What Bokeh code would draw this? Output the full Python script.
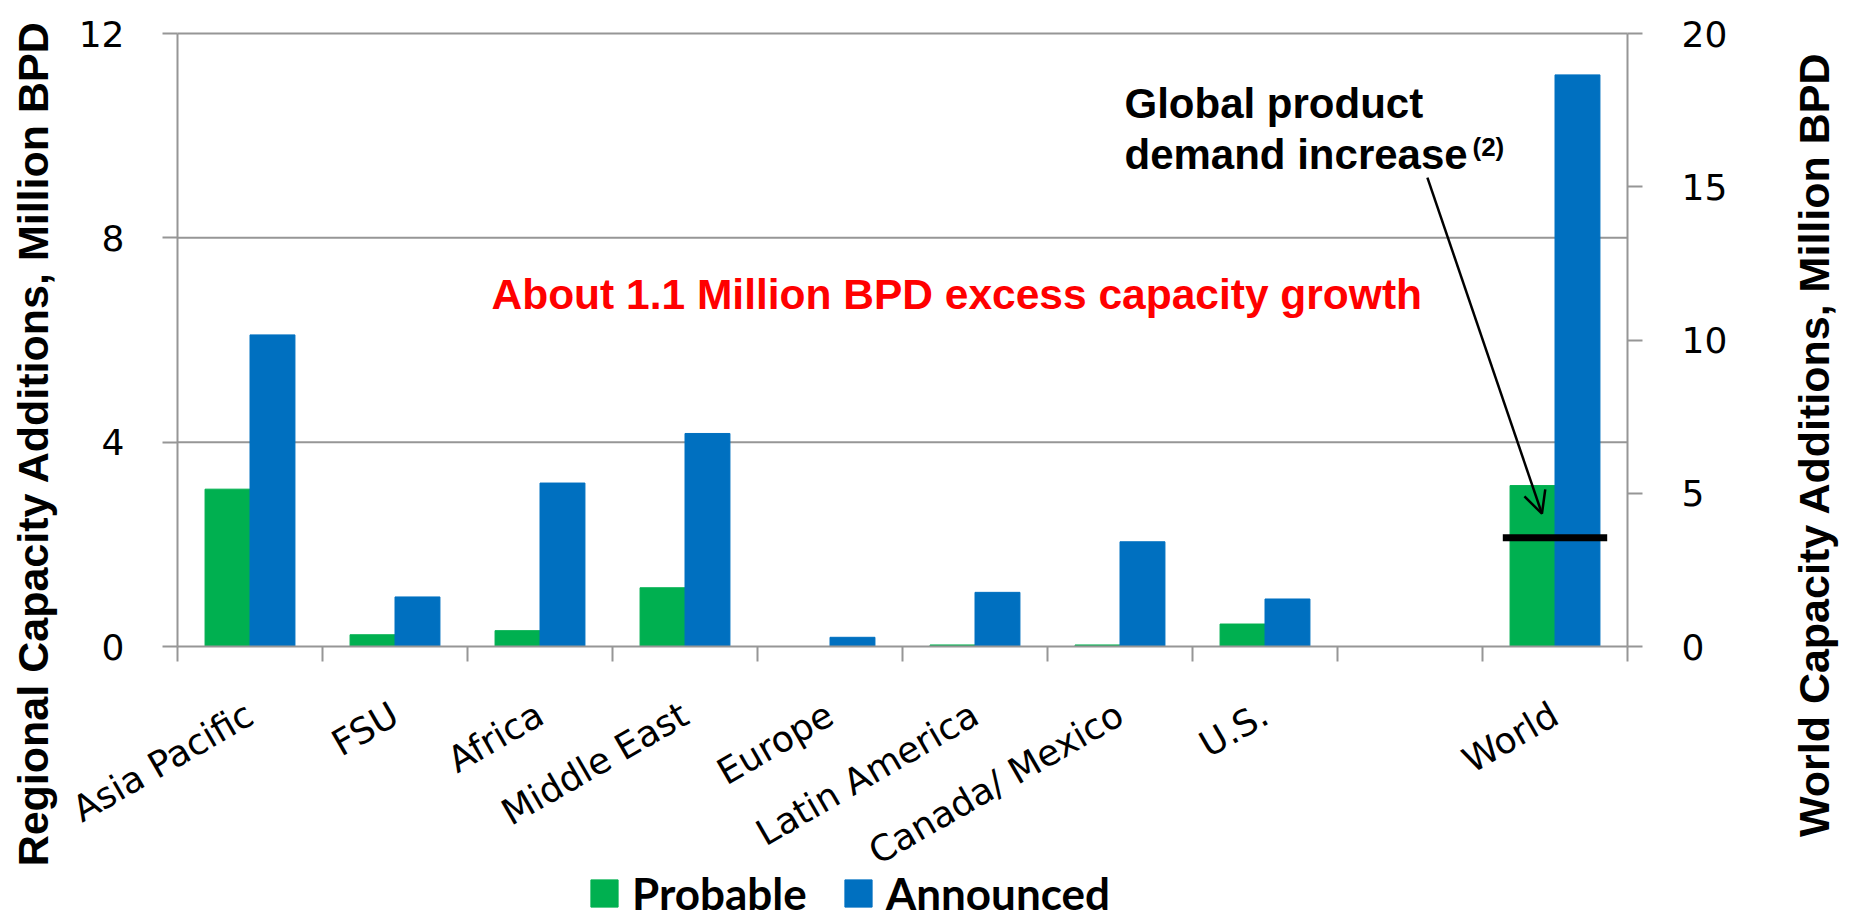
import numpy as np
from math import pi
from bokeh.plotting import figure
from bokeh.models import (Range1d, LinearAxis, FixedTicker, Label, Arrow, OpenHead,
                          Legend, LegendItem, ColumnDataSource)
from bokeh.embed import file_html
from bokeh.resources import INLINE

# ---------------- data ----------------
categories = ["Asia Pacific", "FSU", "Africa", "Middle East", "Europe",
              "Latin America", "Canada/ Mexico", "U.S.", "", "World"]
regional_probable = [3.08, 0.23, 0.31, 1.15, 0.0, 0.03, 0.03, 0.44]
regional_announced = [6.10, 0.97, 3.20, 4.17, 0.18, 1.06, 2.05, 0.93]
world_probable = [5.25]
world_announced = [18.65]
demand_increase = [3.55]
left_ticks = [0, 4, 8, 12]
right_ticks = [0, 5, 10, 15, 20]

GREEN = "#00B050"
BLUE = "#0070C0"
GRAY = "#969696"
TICK_FONT = "DejaVu Sans"
BOLD_FONT = "Liberation Sans"

# ---------------- geometry (pixels of the canvas) ----------------
W, H = 1851, 921
FL, FR, FT, FB = 177, 1627, 33, 646
n = len(categories)
LMAX, RMAX = left_ticks[-1], right_ticks[-1]
ppx = (FR - FL) / n
ppl = (FB - FT) / LMAX
ppr = (FB - FT) / RMAX

p = figure(width=W, height=H,
           x_range=Range1d(-FL / ppx, n + (W - FR) / ppx),
           y_range=Range1d(-(H - FB) / ppl, LMAX + FT / ppl),
           output_backend="svg", toolbar_location=None,
           min_border_left=0, min_border_right=0, min_border_top=0, min_border_bottom=0)
p.outline_line_color = None
p.extra_y_ranges = {"world": Range1d(-(H - FB) / ppr, RMAX + FT / ppr)}
p.xgrid.visible = False
p.ygrid.visible = False

centers = [i + 0.5 for i in range(n)]
bounds = list(range(n + 1))
bw = 0.31

# horizontal gridlines of the left scale, from the left axis to the right axis
grid_src = ColumnDataSource(dict(x0=[0] * (len(left_ticks) - 1), x1=[n] * (len(left_ticks) - 1),
                                 y=left_ticks[1:]))
p.segment(x0="x0", x1="x1", y0="y", y1="y", source=grid_src, line_color=GRAY, line_width=2)

reg_src = ColumnDataSource(dict(
    xp=[c - bw / 2 for c in centers[:8]], xa=[c + bw / 2 for c in centers[:8]],
    prob=regional_probable, ann=regional_announced))
wld_src = ColumnDataSource(dict(
    xp=[centers[9] - bw / 2], xa=[centers[9] + bw / 2],
    prob=world_probable, ann=world_announced,
    x0=[centers[9] - 0.36], x1=[centers[9] + 0.36], d=demand_increase))

r_prob = p.vbar(x="xp", top="prob", width=bw, source=reg_src, fill_color=GREEN, line_color=GREEN)
r_ann = p.vbar(x="xa", top="ann", width=bw, source=reg_src, fill_color=BLUE, line_color=BLUE)
p.vbar(x="xp", top="prob", width=bw, source=wld_src, fill_color=GREEN, line_color=GREEN, y_range_name="world")
p.vbar(x="xa", top="ann", width=bw, source=wld_src, fill_color=BLUE, line_color=BLUE, y_range_name="world")
p.segment(x0="x0", x1="x1", y0="d", y1="d", source=wld_src, line_color="black",
          line_width=7, y_range_name="world")


# ---------------- axes ----------------
def style_axis(ax, standoff):
    ax.major_tick_out = 15
    ax.major_tick_in = 0
    ax.minor_tick_out = 0
    ax.minor_tick_in = 0
    ax.axis_line_color = GRAY
    ax.axis_line_width = 2
    ax.major_tick_line_color = GRAY
    ax.major_tick_line_width = 2
    ax.major_label_text_font = TICK_FONT
    ax.major_label_text_font_size = "36px"
    ax.major_label_text_color = "black"
    ax.major_label_standoff = standoff


yl = p.yaxis[0]
yl.ticker = FixedTicker(ticks=left_ticks)
yl.fixed_location = 0
yl.bounds = (0, LMAX)
style_axis(yl, 38)

yr = LinearAxis(y_range_name="world", ticker=FixedTicker(ticks=right_ticks))
yr.fixed_location = n
yr.bounds = (0, RMAX)
style_axis(yr, 39)
p.add_layout(yr, "right")

xa = p.xaxis[0]
xa.ticker = FixedTicker(ticks=centers, minor_ticks=bounds)
xa.major_label_overrides = {c: name for c, name in zip(centers, categories)}
xa.fixed_location = 0
xa.bounds = (0, n)
style_axis(xa, 50)
xa.major_tick_out = 0
xa.minor_tick_out = 15
xa.minor_tick_line_color = GRAY
xa.minor_tick_line_width = 2
xa.major_label_orientation = pi / 6

# ---------------- annotations (screen units: x from left, y from bottom) ----------------
def sy(y_top):
    return H - y_top


p.add_layout(Label(x=32, y=sy(443), x_units="screen", y_units="screen", angle=pi / 2,
                   text="Regional Capacity Additions, Million BPD", text_font=BOLD_FONT,
                   text_font_style="bold", text_font_size="43px", text_align="center",
                   text_baseline="middle", text_color="black"))
p.add_layout(Label(x=1813, y=sy(444), x_units="screen", y_units="screen", angle=pi / 2,
                   text="World Capacity Additions, Million BPD", text_font=BOLD_FONT,
                   text_font_style="bold", text_font_size="43px", text_align="center",
                   text_baseline="middle", text_color="black"))

p.add_layout(Label(x=491, y=sy(294), x_units="screen", y_units="screen",
                   text="About 1.1 Million BPD excess capacity growth", text_font=BOLD_FONT,
                   text_font_style="bold", text_font_size="42.5px", text_color="#FF0000",
                   text_baseline="alphabetic"))
p.add_layout(Label(x=1124, y=sy(103), x_units="screen", y_units="screen",
                   text="Global product", text_font=BOLD_FONT,
                   text_font_style="bold", text_font_size="42px", text_color="black",
                   text_baseline="alphabetic"))
p.add_layout(Label(x=1124, y=sy(154), x_units="screen", y_units="screen",
                   text="demand increase", text_font=BOLD_FONT,
                   text_font_style="bold", text_font_size="42px", text_color="black",
                   text_baseline="alphabetic"))
p.add_layout(Label(x=1472, y=sy(146), x_units="screen", y_units="screen",
                   text="(2)", text_font=BOLD_FONT,
                   text_font_style="bold", text_font_size="26px", text_color="black",
                   text_baseline="alphabetic"))

p.add_layout(Arrow(end=OpenHead(size=22, line_width=2.5, line_color="black"),
                   x_start=8.62, y_start=9.18, x_end=9.41, y_end=2.60,
                   line_width=2.5, line_color="black"))

# ---------------- legend ----------------
legend = Legend(items=[LegendItem(label="Probable", renderers=[r_prob]),
                       LegendItem(label="Announced", renderers=[r_ann])],
                orientation="horizontal", location=(587, 2),
                glyph_width=34, glyph_height=34, label_standoff=11, spacing=34,
                padding=0, margin=0, border_line_alpha=0, background_fill_alpha=0,
                label_text_font="Lato", label_text_font_style="bold",
                label_text_font_size="44px", label_text_color="black")
p.add_layout(legend, "center")

open("out.html", "w").write(file_html(p, INLINE))
